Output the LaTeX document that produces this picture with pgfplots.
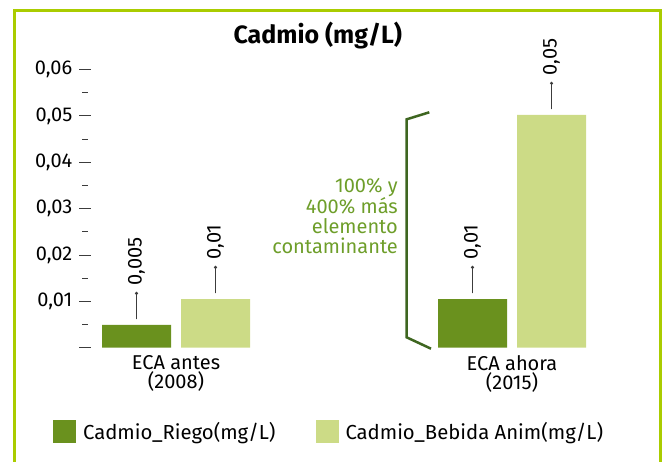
\documentclass[border=0pt]{standalone}
\usepackage{pgfplots}
\pgfplotsset{compat=1.18}
\usepackage{pgfplotstable}
\usepackage{fontspec}
\setmainfont{Fira Sans}
\definecolor{riego}{RGB}{106,145,30}
\definecolor{bebida}{RGB}{204,219,134}
\definecolor{framec}{RGB}{170,204,0}
\definecolor{brack}{RGB}{62,102,32}
\definecolor{annot}{RGB}{110,158,42}
\definecolor{leader}{RGB}{60,60,60}

\pgfplotstableread{
x y lab
0 0.0049 0,005
1 0.0105 0,01
}\riegotab
\pgfplotstableread{
x y lab
0 0.0105 0,01
1 0.0502 0,05
}\bebidatab

\newcommand{\leaderlabel}[1]{\begin{tikzpicture}[baseline=0pt]
\draw[leader, line width=0.9pt] (0,0) -- (0,26pt);
\fill[leader] (0,26pt) circle (1.7pt);
\node[rotate=90, anchor=west, inner sep=0pt, font=\fontsize{20}{20}\selectfont, text=black] at (0,34pt) {#1};
\end{tikzpicture}}

\begin{document}
\begin{tikzpicture}[x=1pt,y=1pt]
\path[use as bounding box] (0,0) rectangle (663,461);
\draw[framec, line width=3pt] (14.5,-10) -- (14.5,450) -- (660.5,450) -- (660.5,-10);
\begin{axis}[
  at={(85pt,113.3pt)}, anchor=south west,
  scale only axis, width=535pt, height=278.2pt,
  xmin=-0.27083, xmax=1.32143, ymin=0, ymax=0.06,
  clip=false, scaled y ticks=false,
  axis lines*=left, axis line style={draw=none},
  ybar=10pt, bar width=69pt,
  ytick={0,0.01,0.02,0.03,0.04,0.05,0.06},
  yticklabels={{},{0,01},{0,02},{0,03},{0,04},{0,05},{0,06}},
  minor ytick={0.005,0.015,0.025,0.035,0.045,0.055},
  ytick align=center, major tick length=11pt, minor tick length=6pt,
  tick style={leader, line width=0.9pt},
  yticklabel style={font=\fontsize{20}{20}\selectfont, anchor=east, inner sep=0pt, xshift=-7pt},
  xtick={0,1}, xticklabels={{ECA antes\\(2008)},{ECA ahora\\(2015)}},
  xtick style={draw=none},
  xticklabel style={align=center, font=\fontsize{20}{16}\selectfont, inner sep=0pt, yshift=3pt},
  nodes near coords={\leaderlabel{\pgfplotspointmeta}},
  point meta=explicit symbolic,
  every node near coord/.append style={anchor=south, inner sep=0pt, yshift=5pt},
  legend style={at={(-0.06,-0.3005)}, anchor=west, draw=none, fill=none, inner sep=0pt,
    legend columns=2, font=\fontsize{20.3}{20}\selectfont,
    nodes={inner sep=0pt},
    /tikz/every odd column/.append style={column sep=7pt},
    /tikz/every even column/.append style={column sep=40pt}},
  legend image code/.code={\fill[#1] (0pt,-11.5pt) rectangle (23pt,11.5pt);},
]
\addplot[fill=riego, draw=none] table[x=x, y=y, meta=lab] {\riegotab};
\addlegendentry{Cadmio\_Riego(mg/L)}
\addplot[fill=bebida, draw=none] table[x=x, y=y, meta=lab] {\bebidatab};
\addlegendentry{Cadmio\_Bebida Anim(mg/L)}
\end{axis}
\node[font=\bfseries\fontsize{25}{26}\selectfont, anchor=base] at (317.8,417) {Cadmio (mg/L)};
\draw[brack, line width=2.5pt] (429.3,348.7) -- (406.7,341.7) -- (406.6,123.7) -- (431,112.3);
\node[align=right, anchor=east, inner sep=0pt, text=annot, font=\fontsize{20}{19.8}\selectfont] at (398,245) {100\% y\\400\% más\\elemento\\contaminante};
\end{tikzpicture}
\end{document}
